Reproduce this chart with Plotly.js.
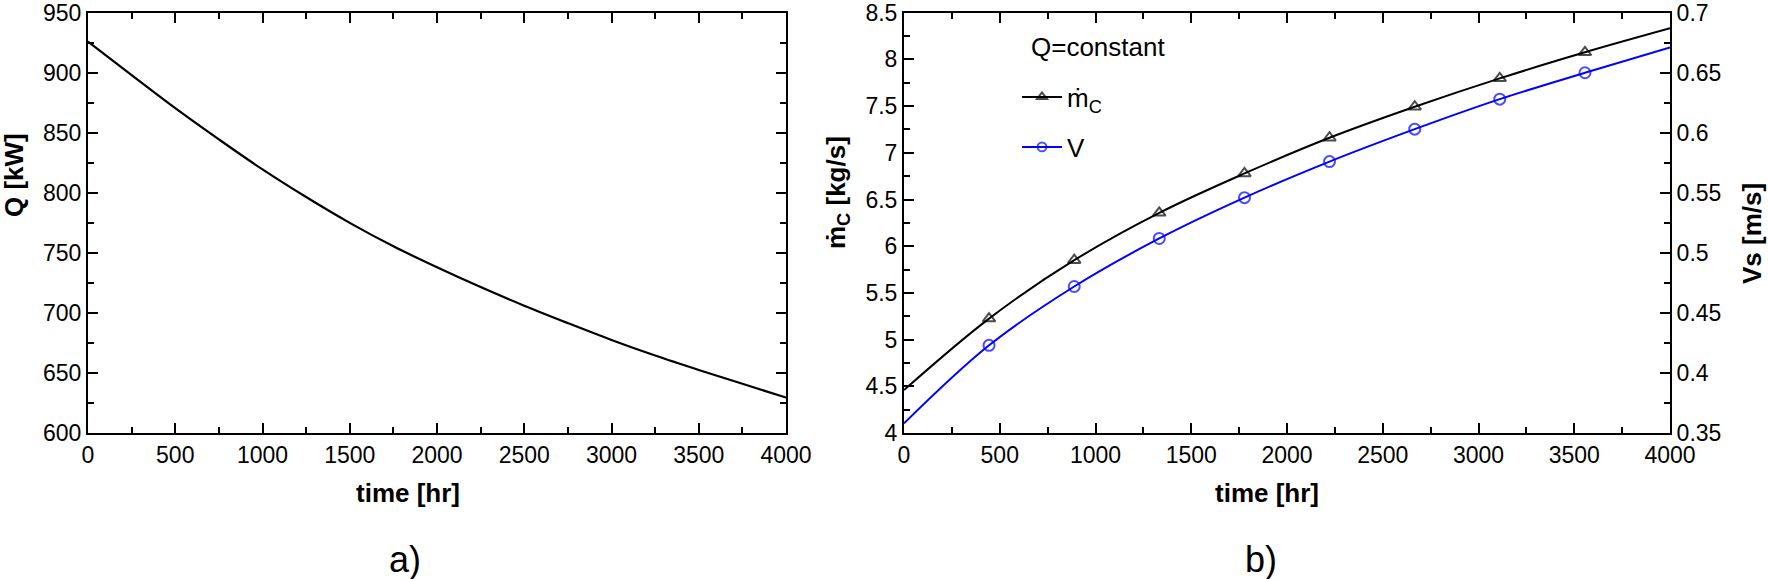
<!DOCTYPE html>
<html>
<head>
<meta charset="utf-8">
<script src="https://cdn.plot.ly/plotly-3.0.1.min.js"></script>
<style>body{margin:0;background:#fff}</style>
</head>
<body>
<div id="chart" style="width:1768px;height:579px"></div>
<script>
// panel a) heat duty against time
const timeQ = [0, 250, 500, 750, 1000, 1250, 1500, 1750, 2000, 2250, 2500, 2750, 3000, 3250, 3500, 3750, 4000];
const heatQ = [926, 898, 870.5, 844.5, 819.5, 796.5, 775, 755.5, 738, 721.5, 706, 691.5, 677.5, 664.5, 652.5, 641, 629.5];

// panel b) Q = constant
const timeB = [0, 444, 889, 1333, 1778, 2222, 2667, 3111, 3556, 4000];
const massFlow = [4.46, 5.225, 5.85, 6.357, 6.779, 7.161, 7.493, 7.797, 8.076, 8.333];
const velocity = [0.358, 0.423, 0.472, 0.512, 0.546, 0.576, 0.603, 0.628, 0.650, 0.671];

const FONT = 'Arial, "Liberation Sans", sans-serif';
const W = 1768, H = 579;
const px = x => x / W;
const py = y => 1 - y / H;

// Origin style: symbols on the inner points only
const symSize = timeB.map((t, i) => (i === 0 || i === timeB.length - 1) ? 0 : 11);

function frame(extra, minorStep) {
	return Object.assign({
		showline: true, linecolor: '#000', linewidth: 2,
		ticks: 'inside', ticklen: 10, tickwidth: 2, tickcolor: '#000',
		showgrid: false, zeroline: false, fixedrange: true,
		ticklabeloverflow: 'allow',
		tickfont: { family: FONT, size: 23, color: '#000' },
		minor: { dtick: minorStep, ticks: 'inside', ticklen: 6, tickwidth: 2, tickcolor: '#000', showgrid: false }
	}, extra);
}

let data = [
	{
		x: timeQ, y: heatQ, xaxis: 'x', yaxis: 'y',
		mode: 'lines', line: { color: '#000', width: 2.2, shape: 'spline' },
		showlegend: false
	},
	{
		x: timeB, y: massFlow, xaxis: 'x2', yaxis: 'y2',
		mode: 'lines+markers', name: 'ṁ<sub>C</sub>', legend: 'legend',
		line: { color: '#000', width: 2, shape: 'spline' },
		marker: { symbol: 'triangle-up-open', size: symSize, color: '#000', line: { width: 2 } }
	},
	{
		x: timeB, y: velocity, xaxis: 'x2', yaxis: 'y3',
		mode: 'lines+markers', name: 'V', legend: 'legend2',
		line: { color: '#0000ff', width: 2, shape: 'spline' },
		marker: { symbol: 'circle-open', size: symSize, color: '#0000ff', line: { width: 2 } }
	}
];

const legendBase = {
	xanchor: 'left', yanchor: 'middle', bgcolor: 'rgba(0,0,0,0)', borderwidth: 0,
	itemwidth: 40, font: { family: FONT, size: 26, color: '#000' }
};

function note(text, x, y, size, extra) {
	return Object.assign({
		text: text, xref: 'paper', yref: 'paper', x: x, y: y,
		xanchor: 'center', yanchor: 'middle', showarrow: false,
		font: { family: FONT, size: size, color: '#000' }
	}, extra);
}

let layout = {
	width: W, height: H,
	margin: { l: 0, r: 0, t: 0, b: 0 },
	paper_bgcolor: '#fff', plot_bgcolor: '#fff',
	showlegend: true,
	xaxis: frame({ domain: [px(88), px(786)], range: [0, 4000], dtick: 500, anchor: 'y', mirror: 'ticks' }, 250),
	yaxis: frame({ domain: [py(433), py(12.7)], range: [600, 950], dtick: 50, anchor: 'x', mirror: 'ticks' }, 25),
	xaxis2: frame({ domain: [px(904), px(1670)], range: [0, 4000], dtick: 500, anchor: 'y2', mirror: 'ticks' }, 250),
	yaxis2: frame({ domain: [py(433), py(12.7)], range: [4, 8.5], dtick: 0.5, anchor: 'x2' }, 0.25),
	yaxis3: frame({ range: [0.35, 0.7], dtick: 0.05, anchor: 'x2', overlaying: 'y2', side: 'right' }, 0.025),
	legend: Object.assign({ x: px(1017), y: py(97) }, legendBase),
	legend2: Object.assign({ x: px(1017), y: py(147) }, legendBase),
	annotations: [
		note('<b>Q [kW]</b>', px(14), py(175), 26, { textangle: -90 }),
		note('<b>time [hr]</b>', px(408), py(493), 26),
		note('<b>ṁ<sub>C</sub> [kg/s]</b>', px(838), py(193), 26, { textangle: -90 }),
		note('<b>time [hr]</b>', px(1267), py(493), 26),
		note('<b>Vs [m/s]</b>', px(1752), py(234), 26, { textangle: -90 }),
		note('Q=constant', px(1029), py(47), 26, { xanchor: 'left' }),
		note('a)', px(405), py(559), 36),
		note('b)', px(1261), py(559), 36)
	]
};

Plotly.newPlot('chart', data, layout, { staticPlot: true });
</script>
</body>
</html>
